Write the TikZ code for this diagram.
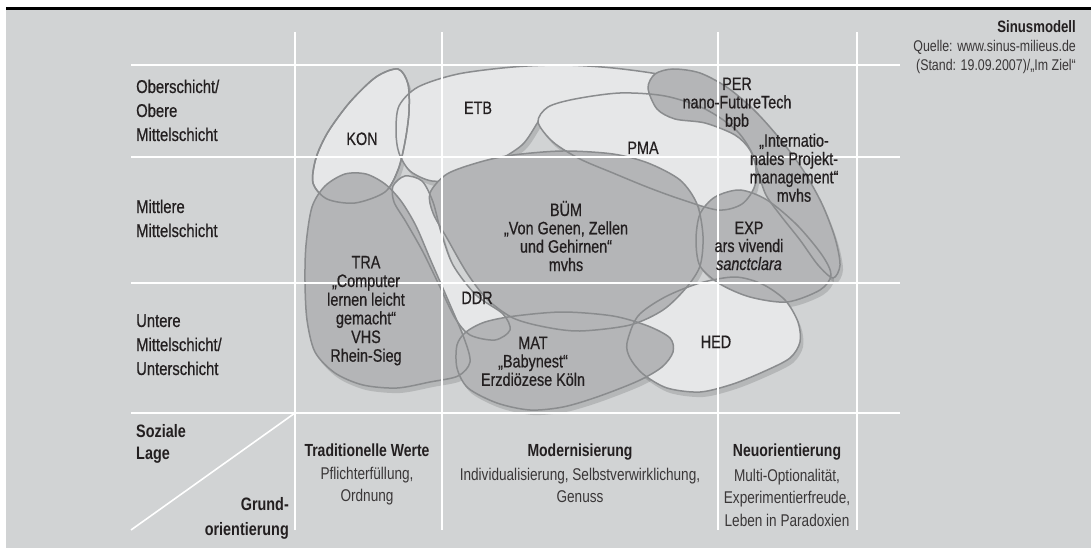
\documentclass[tikz,border=0pt]{standalone}
\usepackage{fontspec}
\setmainfont{Liberation Sans}[FakeStretch=0.8]
\newfontfamily\medfont{Liberation Sans}[FakeStretch=0.8, FakeBold=0.6]
\definecolor{bg}{HTML}{D1D3D4}
\definecolor{lightf}{HTML}{E6E7E8}
\definecolor{darkf}{HTML}{B4B5B7}
\definecolor{edge}{HTML}{8A8C8E}
\definecolor{ink}{HTML}{231F20}
\definecolor{soft}{HTML}{3A3738}
\newcommand\fsz[1]{\fontsize{#1}{#1}\selectfont}
\tikzset{
  gridline/.style={white, line width=2pt},
  outl/.style={draw=edge, line width=1.5pt},
  lab/.style={anchor=base, inner sep=0pt, text=ink, font=\medfont\fsz{18}},
  rowlab/.style={anchor=base west, inner sep=0pt, text=ink, font=\medfont\fsz{18.5}},
  headlab/.style={anchor=base, inner sep=0pt, text=ink, font=\bfseries\fsz{17.5}},
  sublab/.style={anchor=base, inner sep=0pt, text=soft, font=\fsz{17}},
  shad/.style={fill=black, fill opacity=0.13},
}
\begin{document}
\begin{tikzpicture}[x=1pt,y=-1pt]
\useasboundingbox (0,0) rectangle (1091,548);
\fill[bg] (6,10) rectangle (1091,548);
\draw[black, line width=2.6pt] (6,8.5) -- (1091,8.5);

% shapes (saved paths)
\path[save path=\pKON] plot[smooth cycle] coordinates {(398,69) (408,84) (409,112) (405,142) (398,170) (385,192) (355,203) (327,199) (313,183) (316,158) (328,132) (350,102) (376,77)};
\path[save path=\pETB] plot[smooth cycle] coordinates {(396,132) (399,106) (418,87) (458,74) (513,67) (563,65) (613,68) (663,75) (700,86) (728,100) (736,112) (722,116) (705,110) (665,97) (620,94) (575,100) (548,108) (538,122) (522,145) (492,164) (460,178) (432,181) (410,171) (399,153)};
\path[save path=\pPMA] plot[smooth cycle] coordinates {(538,122) (548,107) (575,99) (620,93) (665,96) (705,109) (737,131) (754,158) (755,185) (742,204) (718,210) (680,199) (647,187) (613,173) (580,159) (553,142)};
\path[save path=\pDDR] plot[smooth cycle] coordinates {(393,186) (405,176) (422,181) (433,202) (441,232) (453,265) (476,295) (503,314) (510,330) (495,340) (470,335) (455,318) (440,287) (423,252) (406,222) (394,202)};
\path[save path=\pHED] plot[smooth cycle] coordinates {(627,343) (638,316) (665,297) (700,283) (735,277) (762,284) (785,300) (798,322) (800,342) (790,358) (765,371) (733,384) (700,392) (667,388) (643,374) (630,358)};
\path[save path=\pTRA] plot[smooth cycle] coordinates {(306,245) (312,207) (325,186) (345,174) (366,174) (385,184) (401,201) (416,226) (431,261) (448,300) (464,338) (470,362) (458,376) (430,382) (397,388) (363,385) (335,373) (315,352) (307,320) (305,282)};
\path[save path=\pBUM] plot[smooth cycle] coordinates {(430,193) (447,174) (480,162) (513,155) (563,151) (613,154) (648,163) (680,180) (697,204) (703,236) (700,266) (686,288) (663,310) (630,325) (580,331) (545,327) (513,318) (487,299) (467,273) (448,240) (433,213)};
\path[save path=\pMAT] plot[smooth cycle] coordinates {(457,345) (466,332) (485,322) (515,316) (563,312) (613,316) (648,326) (670,338) (673,352) (662,367) (638,381) (597,397) (563,407) (530,410) (497,403) (468,388) (457,368)};
\path[save path=\pPER] plot[smooth cycle] coordinates {(648,88) (655,74) (673,69) (700,73) (728,88) (755,111) (780,139) (803,170) (822,204) (835,238) (840,265) (833,278) (818,265) (800,240) (781,216) (766,195) (758,172) (750,150) (735,135) (705,123) (675,119) (657,109)};
\path[save path=\pEXP] plot[smooth cycle] coordinates {(696,240) (700,214) (715,197) (740,190) (767,200) (797,225) (822,255) (831,275) (820,290) (787,302) (750,297) (720,284) (700,266)};

% shadows
\begin{scope}[transform canvas={shift={(3pt,-5pt)}}]
\foreach \p in {\pKON,\pETB,\pPMA,\pDDR,\pHED,\pTRA,\pBUM,\pMAT,\pPER,\pEXP}{
  \fill[shad, use path=\p];
}
\end{scope}

% light shapes
\fill[lightf, use path=\pKON];
\fill[lightf, use path=\pETB];
\draw[outl, use path=\pKON];
\draw[outl, use path=\pETB];
\fill[lightf, use path=\pPMA];
\fill[lightf, use path=\pDDR];
\fill[lightf, use path=\pHED];
% dark shapes
\fill[darkf, use path=\pTRA];
\fill[darkf, use path=\pBUM];
\fill[darkf, use path=\pMAT];
\fill[darkf, use path=\pPER];
\fill[darkf, use path=\pEXP];
% outlines
\foreach \p in {\pKON,\pPMA,\pDDR,\pHED,\pTRA,\pBUM,\pMAT,\pPER,\pEXP}{
  \draw[outl, use path=\p];
}

% grid
\foreach \x in {295,442,718,857} \draw[gridline] (\x,32) -- (\x,530);
\foreach \y in {65,157,283,413} \draw[gridline] (131,\y) -- (900,\y);
\coordinate (dA) at (295,413);
\coordinate (dB) at (131,530);
\draw[gridline, line width=1.6pt] (dA) -- (dB);

% source
\node[anchor=base east, inner sep=0pt, text=ink, font=\bfseries\fsz{16.5}] (src1) at (1076,33) {Sinusmodell};
\node[anchor=base east, inner sep=0pt, text=soft, font=\fsz{15.5}] (src2) at (1076,52) {Quelle: www.sinus-milieus.de};
\node[anchor=base east, inner sep=0pt, text=soft, font=\fsz{15.5}] (src3) at (1076,71) {(Stand: 19.09.2007)/„Im Ziel“};

% row labels
\node[rowlab] (r1a) at (136,93) {Oberschicht/};
\node[rowlab] (r1b) at (136,117) {Obere};
\node[rowlab] (r1c) at (136,141) {Mittelschicht};
\node[rowlab] (r2a) at (136,213) {Mittlere};
\node[rowlab] (r2b) at (136,237) {Mittelschicht};
\node[rowlab] (r3a) at (136,327) {Untere};
\node[rowlab] (r3b) at (136,351) {Mittelschicht/};
\node[rowlab] (r3c) at (136,375) {Unterschicht};

\node[rowlab, font=\bfseries\fsz{18}] (sl1) at (136,437) {Soziale};
\node[rowlab, font=\bfseries\fsz{18}] (sl2) at (136,459) {Lage};
\node[anchor=base east, inner sep=0pt, text=ink, font=\bfseries\fsz{18}] (go1) at (289,510) {Grund-};
\node[anchor=base east, inner sep=0pt, text=ink, font=\bfseries\fsz{18}] (go2) at (289,535) {orientierung};

% column labels
\node[headlab] (c1) at (367,456) {Traditionelle Werte};
\node[sublab] (c1a) at (367,479) {Pflichterfüllung,};
\node[sublab] (c1b) at (367,501) {Ordnung};
\node[headlab] (c2) at (580,456) {Modernisierung};
\node[sublab] (c2a) at (580,480) {Individualisierung, Selbstverwirklichung,};
\node[sublab] (c2b) at (580,502) {Genuss};
\node[headlab] (c3) at (787,456) {Neuorientierung};
\node[sublab] (c3a) at (787,481) {Multi-Optionalität,};
\node[sublab] (c3b) at (787,503) {Experimentierfreude,};
\node[sublab] (c3c) at (787,526) {Leben in Paradoxien};

% milieu labels
\node[lab] (kon) at (362,145) {KON};
\node[lab] (etb) at (478,114) {ETB};
\node[lab] (pma) at (643,154) {PMA};
\node[lab] (bum1) at (566,216) {BÜM};
\node[lab] (bum2) at (566,234.3) {„Von Genen, Zellen};
\node[lab] (bum3) at (566,252.6) {und Gehirnen“};
\node[lab] (bum4) at (566,271) {mvhs};
\node[lab] (tra1) at (366,268.3) {TRA};
\node[lab] (tra2) at (366,287) {„Computer};
\node[lab] (tra3) at (366,305.7) {lernen leicht};
\node[lab] (tra4) at (366,324.3) {gemacht“};
\node[lab] (tra5) at (366,343) {VHS};
\node[lab] (tra6) at (366,361.7) {Rhein-Sieg};
\node[lab] (ddr) at (477,304) {DDR};
\node[lab] (mat1) at (533,349) {MAT};
\node[lab] (mat2) at (533,367.4) {„Babynest“};
\node[lab] (mat3) at (533,385.8) {Erzdiözese Köln};
\node[lab] (hed) at (716,348) {HED};
\node[lab] (per1) at (737,90) {PER};
\node[lab] (per2) at (737,108.3) {nano-FutureTech};
\node[lab] (per3) at (737,126.7) {bpb};
\node[lab] (ipm1) at (794,146.7) {„Internatio-};
\node[lab] (ipm2) at (794,165) {nales Projekt-};
\node[lab] (ipm3) at (794,183.3) {management“};
\node[lab] (ipm4) at (794,201.7) {mvhs};
\node[lab] (exp1) at (749,234) {EXP};
\node[lab] (exp2) at (749,252) {ars vivendi};
\node[lab] (exp3) at (749,270) {\itshape sanctclara};
\end{tikzpicture}
\end{document}
